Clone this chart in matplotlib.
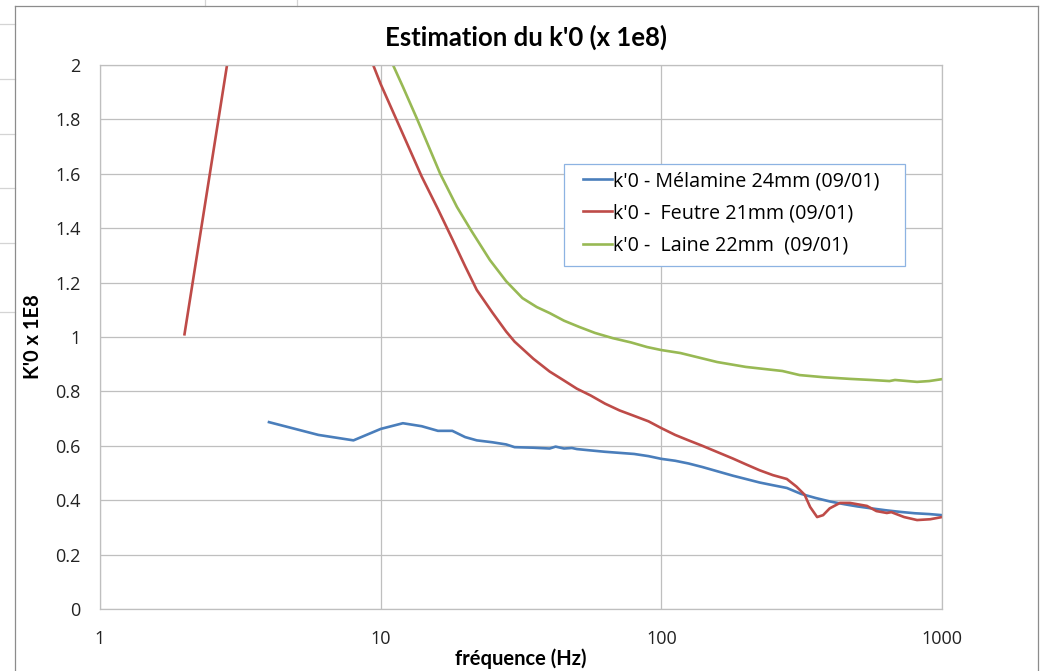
import matplotlib
matplotlib.use("Agg")
import matplotlib.pyplot as plt
from matplotlib.lines import Line2D
from matplotlib.patches import Rectangle
from matplotlib.ticker import FixedLocator, FixedFormatter, NullLocator

# --- data (k'0 x 1e8 versus frequency in Hz) ---
freq_melamine = [4, 6, 8, 10, 12, 14, 16, 18, 20, 22, 25, 28, 30, 35, 40, 42, 45,
                 48, 50, 56, 63, 71, 80, 90, 100, 112, 125, 140, 160, 180, 200,
                 224, 250, 280, 315, 355, 400, 450, 500, 560, 630, 710, 800, 900, 1000]
k0_melamine = [0.687, 0.640, 0.620, 0.662, 0.683, 0.672, 0.655, 0.655, 0.632, 0.620,
               0.613, 0.605, 0.595, 0.593, 0.590, 0.597, 0.590, 0.592, 0.588, 0.583,
               0.578, 0.574, 0.570, 0.562, 0.552, 0.545, 0.535, 0.522, 0.505, 0.490,
               0.478, 0.465, 0.455, 0.445, 0.423, 0.408, 0.395, 0.385, 0.377, 0.370,
               0.363, 0.357, 0.352, 0.349, 0.345]

freq_feutre = [2, 3, 4, 5, 6, 7, 8, 9, 10, 12, 14, 16, 18, 20, 22, 25, 28, 30, 35,
               40, 45, 50, 56, 63, 71, 80, 90, 100, 112, 125, 140, 160, 180, 200,
               224, 250, 280, 303, 324, 339, 359, 377, 398, 433, 470, 540, 584, 636,
               660, 733, 815, 908, 1000]
k0_feutre = [1.01, 2.16, 2.60, 2.70, 2.60, 2.45, 2.30, 2.05, 1.93, 1.746, 1.59, 1.47,
             1.36, 1.26, 1.173, 1.09, 1.02, 0.983, 0.92, 0.873, 0.84, 0.81, 0.785,
             0.755, 0.73, 0.71, 0.69, 0.665, 0.64, 0.62, 0.60, 0.575, 0.553, 0.532,
             0.51, 0.492, 0.478, 0.45, 0.42, 0.375, 0.338, 0.345, 0.37, 0.39, 0.39,
             0.379, 0.36, 0.353, 0.356, 0.338, 0.327, 0.33, 0.338]

freq_laine = [10, 12, 13.5, 16.3, 18.7, 21, 24.5, 28, 32, 36, 40, 45, 51, 58, 67, 78,
              89, 100, 117, 158, 200, 270, 311, 380, 470, 560, 650, 680, 815, 900, 1000]
k0_laine = [2.10, 1.92, 1.80, 1.60, 1.478, 1.392, 1.283, 1.205, 1.143, 1.11, 1.088,
            1.06, 1.037, 1.015, 0.996, 0.98, 0.963, 0.952, 0.941, 0.908, 0.89, 0.875,
            0.86, 0.852, 0.846, 0.842, 0.838, 0.842, 0.835, 0.838, 0.845]

labels = ["k'0 - Mélamine 24mm (09/01)",
          "k'0 -  Feutre 21mm (09/01)",
          "k'0 -  Laine 22mm  (09/01)"]
colors = ["#4A7EBB", "#BE4B48", "#98B954"]

x_ticks = [1, 10, 100, 1000]
x_tick_labels = ["1", "10", "100", "1000"]
y_ticks = [0, 0.2, 0.4, 0.6, 0.8, 1.0, 1.2, 1.4, 1.6, 1.8, 2.0]
y_tick_labels = ["0", "0.2", "0.4", "0.6", "0.8", "1", "1.2", "1.4", "1.6", "1.8", "2"]

W, H = 1042, 671
fig = plt.figure(figsize=(W / 100, H / 100), dpi=100)
fig.patch.set_facecolor("white")


def fx(px):
    return px / W


def fy(py):
    return 1 - py / H


# surrounding worksheet cell lines
cell_col = "#D4D4D4"
for yy in [24, 79, 134, 188, 243, 312]:
    fig.add_artist(Line2D([fx(0), fx(15)], [fy(yy), fy(yy)], color=cell_col, lw=0.9))
for xx in [205, 297]:
    fig.add_artist(Line2D([fx(xx), fx(xx)], [fy(0), fy(6)], color=cell_col, lw=0.9))

# chart area border
border_col = "#8C8C8C"
fig.add_artist(Line2D([fx(15), fx(15)], [fy(6), fy(H + 2)], color=border_col, lw=0.9))
fig.add_artist(Line2D([fx(15), fx(1038)], [fy(6), fy(6)], color=border_col, lw=0.9))
fig.add_artist(Line2D([fx(1038), fx(1038)], [fy(6), fy(H + 2)], color=border_col, lw=0.9))

ax = fig.add_axes([fx(100), fy(609), fx(942) - fx(100), fy(65) - fy(609)])
ax.set_xscale("log")
ax.set_xlim(1, 1000)
ax.set_ylim(0, 2)

for f, v, c, lab in zip([freq_melamine, freq_feutre, freq_laine],
                        [k0_melamine, k0_feutre, k0_laine], colors, labels):
    ax.plot(f, v, color=c, lw=1.9, label=lab, solid_joinstyle="round")

ax.xaxis.set_major_locator(FixedLocator(x_ticks))
ax.xaxis.set_major_formatter(FixedFormatter(x_tick_labels))
ax.xaxis.set_minor_locator(NullLocator())
ax.yaxis.set_major_locator(FixedLocator(y_ticks))
ax.yaxis.set_major_formatter(FixedFormatter(y_tick_labels))

grid_col = "#BFBFBF"
ax.grid(True, which="major", color=grid_col, lw=0.9)
ax.set_axisbelow(True)
for s in ax.spines.values():
    s.set_color(grid_col)
    s.set_linewidth(0.9)

tick_font = "Open Sans"
ax.tick_params(axis="both", length=0, labelsize=13, labelcolor="#222222")
ax.tick_params(axis="y", pad=14)
ax.tick_params(axis="x", pad=15)
for t in ax.get_xticklabels() + ax.get_yticklabels():
    t.set_fontfamily(tick_font)

label_font = ["Liberation Sans Narrow", "Lato", "DejaVu Sans"]
fig.text(fx(521), fy(659), "fréquence (Hz)", ha="center", va="center",
         fontsize=14.5, fontweight="bold", family=label_font)
fig.text(fx(33), fy(337), "K'0 x 1E8", ha="center", va="center", rotation=90,
         fontsize=14.5, fontweight="bold", family=label_font)
fig.text(fx(526), fy(37), "Estimation du k'0 (x 1e8)", ha="center", va="center",
         fontsize=18.5, fontweight="bold", family=["Lato", "DejaVu Sans"])

# legend box drawn as its own frame, entries placed inside it
ax.add_patch(Rectangle((fx(564), fy(266)), fx(905) - fx(564), fy(164) - fy(266),
                       transform=fig.transFigure, facecolor="white",
                       edgecolor="#8DB3E2", lw=0.9, zorder=4, clip_on=False))
leg = ax.legend(loc="upper left", bbox_to_anchor=(fx(583), fy(171)),
                bbox_transform=fig.transFigure, borderaxespad=0, borderpad=0,
                frameon=False, handlelength=1.45, handletextpad=0.05,
                labelspacing=0.62, prop={"family": tick_font, "size": 14.2})
leg.set_zorder(5)

fig.savefig("out.png", dpi=100, facecolor="white")
